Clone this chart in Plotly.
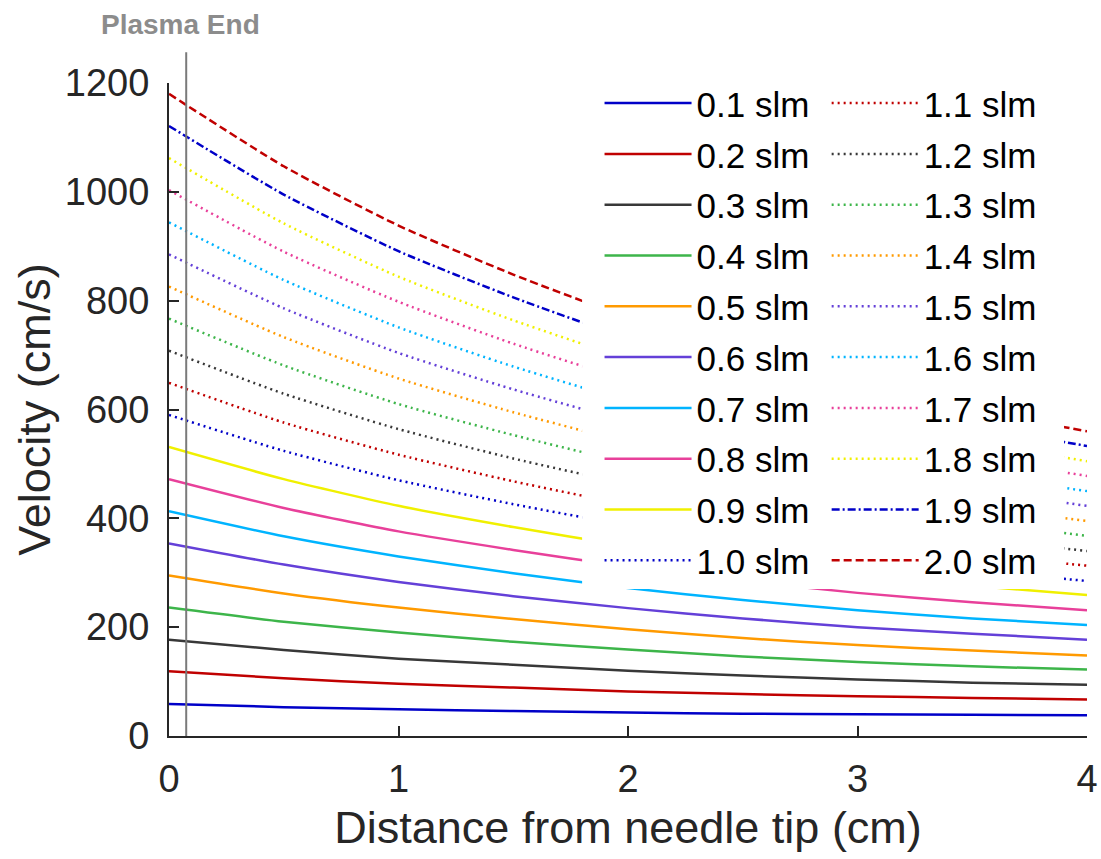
import plotly.graph_objects as go

# distance from needle tip (cm) at which velocities are sampled
distance = [0, 0.5, 1.0, 1.5, 2.0, 2.5, 3.0, 3.5, 4.0]

flow_labels = ["0.1 slm", "0.2 slm", "0.3 slm", "0.4 slm", "0.5 slm",
               "0.6 slm", "0.7 slm", "0.8 slm", "0.9 slm", "1.0 slm",
               "1.1 slm", "1.2 slm", "1.3 slm", "1.4 slm", "1.5 slm",
               "1.6 slm", "1.7 slm", "1.8 slm", "1.9 slm", "2.0 slm"]

# gas velocity (cm/s) along the jet for each flow rate
v_01 = [59, 53, 49, 46, 43, 41, 40, 39, 38]
v_02 = [119, 106, 96, 89, 82, 77, 73, 70, 67]
v_03 = [177, 158, 142, 131, 120, 111, 104, 98, 94]
v_04 = [236, 210, 190, 173, 159, 146, 136, 128, 122]
v_05 = [295, 262, 236, 215, 196, 180, 167, 157, 148]
v_06 = [354, 315, 283, 257, 235, 216, 200, 188, 177]
v_07 = [413, 367, 330, 299, 272, 250, 231, 216, 204]
v_08 = [472, 419, 376, 342, 311, 285, 263, 246, 231]
v_09 = [531, 472, 423, 384, 349, 320, 295, 276, 259]
v_10 = [590, 524, 470, 426, 387, 354, 326, 304, 285]
v_11 = [649, 576, 517, 468, 425, 389, 358, 334, 313]
v_12 = [708, 629, 564, 510, 463, 424, 390, 363, 340]
v_13 = [767, 681, 610, 553, 502, 459, 422, 393, 368]
v_14 = [826, 733, 657, 595, 540, 493, 453, 422, 395]
v_15 = [885, 786, 704, 637, 578, 528, 485, 452, 423]
v_16 = [944, 838, 751, 679, 616, 563, 517, 481, 450]
v_17 = [1003, 890, 798, 721, 654, 598, 549, 511, 478]
v_18 = [1062, 942, 844, 764, 693, 632, 580, 540, 505]
v_19 = [1121, 995, 891, 806, 731, 667, 612, 570, 533]
v_20 = [1180, 1047, 938, 848, 769, 702, 644, 599, 560]

velocities = [v_01, v_02, v_03, v_04, v_05, v_06, v_07, v_08, v_09, v_10,
              v_11, v_12, v_13, v_14, v_15, v_16, v_17, v_18, v_19, v_20]

plasma_end = 0.075

palette = ["#0000C8", "#C00000", "#383838", "#3DB54A", "#FF9A00",
           "#6440D8", "#00B4FF", "#E8409A", "#F0F000"]
styles = (["solid"] * 9 + ["2px,4px"] * 9 + ["8px,3px,2px,3px", "8px,4px"])

TXT = "#262626"
FONT = "Liberation Sans, Arial, sans-serif"

fig = go.Figure()
for i, (lab, vals) in enumerate(zip(flow_labels, velocities)):
    color = palette[i % 9] if i < 18 else ("#0000C8" if i == 18 else "#C00000")
    fig.add_trace(go.Scatter(
        x=distance, y=vals, mode="lines", name=lab,
        line=dict(color=color, width=2.5, dash=styles[i], shape="spline", smoothing=0.6),
        legend="legend" if i < 10 else "legend2",
        legendgroup=lab,
    ))

# white panel behind the two legend columns
fig.add_shape(type="rect", xref="x", yref="y", x0=1.80, x1=3.90, y0=270, y1=1200,
              fillcolor="white", line=dict(width=0), layer="above")

# plasma end marker
fig.add_shape(type="line", xref="x", yref="paper", x0=plasma_end, x1=plasma_end,
              y0=0, y1=1.047, line=dict(color="#7a7a7a", width=2), layer="above")
fig.add_annotation(x=plasma_end, xref="x", y=1.090, yref="paper", text="<b>Plasma End</b>",
                   showarrow=False, xshift=-6, yanchor="middle",
                   font=dict(family=FONT, size=28, color="#8c8c8c"))

leg_common = dict(bgcolor="rgba(0,0,0,0)", borderwidth=0, itemwidth=87,
                  font=dict(family=FONT, size=35, color="black"),
                  xanchor="left", yanchor="top", maxheight=700,
                  traceorder="grouped", tracegroupgap=2.3)

fig.update_layout(
    width=1101, height=859,
    margin=dict(l=169, r=14, t=83, b=123, autoexpand=False),
    paper_bgcolor="white", plot_bgcolor="white",
    font=dict(family=FONT, color=TXT),
    showlegend=True,
    legend=dict(x=0.469, y=1.014, **leg_common),
    legend2=dict(x=0.7164, y=1.014, **leg_common),
    xaxis=dict(range=[0, 4], tickvals=[0, 1, 2, 3, 4], showgrid=False, zeroline=False,
               automargin=False,
               showline=True, linecolor=TXT, linewidth=2, ticks="inside", ticklen=10,
               tickwidth=2, tickcolor=TXT, tickfont=dict(size=38, color=TXT),
               ticklabelstandoff=8,
               title=dict(text="Distance from needle tip (cm)", font=dict(size=45, color=TXT),
                          standoff=13)),
    yaxis=dict(range=[0, 1200], tickvals=[0, 200, 400, 600, 800, 1000, 1200], showgrid=False,
               automargin=False,
               zeroline=False, showline=True, linecolor=TXT, linewidth=2, ticks="inside",
               ticklen=10, tickwidth=2, tickcolor=TXT, tickfont=dict(size=38, color=TXT),
               ticklabelstandoff=10,
               title=dict(text="Velocity (cm/s)", font=dict(size=45, color=TXT), standoff=0)),
)

fig.write_html("out.html")
